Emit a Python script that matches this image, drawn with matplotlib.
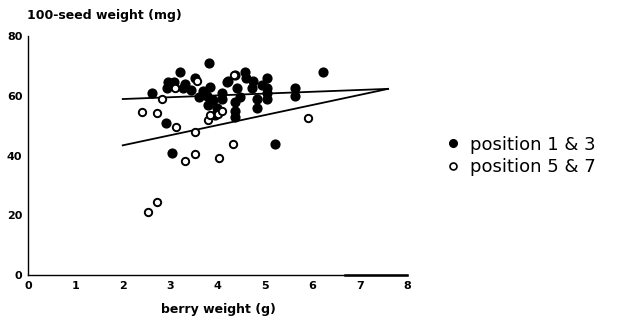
import matplotlib
matplotlib.use("Agg")
import matplotlib.pyplot as plt
from matplotlib.lines import Line2D

# position 1 & 3 (filled)
x_pos13 = [3.82, 3.21, 6.22, 5.21, 3.04, 2.91, 2.62, 2.93, 2.95, 3.08, 3.31, 3.27,
           3.45, 3.52, 3.84, 3.78, 3.80, 3.99, 3.90, 3.70, 4.22, 4.37, 4.58, 4.41,
           4.47, 4.37, 4.37, 4.37, 4.75, 4.73, 4.94, 4.83, 4.83, 5.04, 5.04, 5.04,
           5.04, 5.63, 5.63, 4.20, 4.09, 4.10, 3.95, 4.60, 3.60]
y_pos13 = [71.0, 68.0, 68.0, 44.0, 41.0, 51.0, 61.0, 62.5, 64.5, 64.5, 64.0, 62.5,
           62.0, 66.0, 63.0, 60.0, 57.0, 56.0, 58.5, 61.5, 65.0, 67.0, 68.0, 62.5,
           59.5, 58.0, 55.0, 53.0, 65.0, 62.5, 63.5, 59.0, 56.0, 66.0, 62.5, 61.0,
           59.0, 62.5, 60.0, 64.5, 61.0, 59.0, 53.5, 66.0, 59.5]

# position 5 & 7 (open)
x_pos57 = [2.40, 2.72, 2.83, 3.12, 3.52, 3.31, 3.52, 4.03, 2.72, 2.53, 4.32, 5.91,
           3.80, 3.85, 4.00, 3.57, 4.35, 3.10, 4.10]
y_pos57 = [54.5, 54.2, 59.0, 49.5, 48.0, 38.0, 40.5, 39.3, 24.5, 21.0, 44.0, 52.5,
           52.0, 53.5, 54.0, 65.0, 67.0, 62.5, 55.0]

# fitted lines (end points)
line13_x = [2.0, 7.6]
line13_y = [58.9, 62.3]
line57_x = [2.0, 7.6]
line57_y = [43.4, 62.3]

xticks = [0, 1, 2, 3, 4, 5, 6, 7, 8]
yticks = [0, 20, 40, 60, 80]

fig = plt.figure(figsize=(6.35, 3.24), dpi=100)
ax = fig.add_axes([28 / 635, 49 / 324, 379 / 635, 239 / 324])

ax.plot(line13_x, line13_y, color='black', linewidth=1.3, zorder=2)
ax.plot(line57_x, line57_y, color='black', linewidth=1.3, zorder=2)

ax.scatter(x_pos13, y_pos13, s=40, color='black', zorder=3)
ax.scatter(x_pos57, y_pos57, s=28, facecolor='white', edgecolor='black',
           linewidth=1.4, zorder=4)

ax.set_xlim(0, 8)
ax.set_ylim(0, 80)
ax.set_xticks(xticks)
ax.set_yticks(yticks)
ax.tick_params(length=0, labelsize=8, pad=4)
for lab in ax.get_xticklabels() + ax.get_yticklabels():
    lab.set_fontweight('bold')
ax.spines['top'].set_visible(False)
ax.spines['right'].set_visible(False)
ax.spines['left'].set_linewidth(1.0)
ax.spines['bottom'].set_linewidth(1.0)
# thicker piece at the end of the x axis
ax.plot([6.7, 8.0], [0, 0], color='black', linewidth=1.8, clip_on=False, zorder=5)

fig.text(27 / 635, 1 - 16 / 324, '100-seed weight (mg)', fontsize=9,
         fontweight='bold', va='center', ha='left')
fig.text(218 / 635, 1 - 309 / 324, 'berry weight (g)', fontsize=9,
         fontweight='bold', va='center', ha='center')

handles = [Line2D([], [], marker='o', linestyle='none', color='black', markersize=5.5),
           Line2D([], [], marker='o', linestyle='none', markerfacecolor='white',
                  markeredgecolor='black', markeredgewidth=1.2, markersize=5)]
fig.legend(handles, ['position 1 & 3', 'position 5 & 7'], loc='center left',
           bbox_to_anchor=(428 / 635, 1 - 156 / 324), frameon=False,
           fontsize=13, handletextpad=0.45, labelspacing=0.25, handlelength=1.0)

fig.savefig('out.png', dpi=100)
